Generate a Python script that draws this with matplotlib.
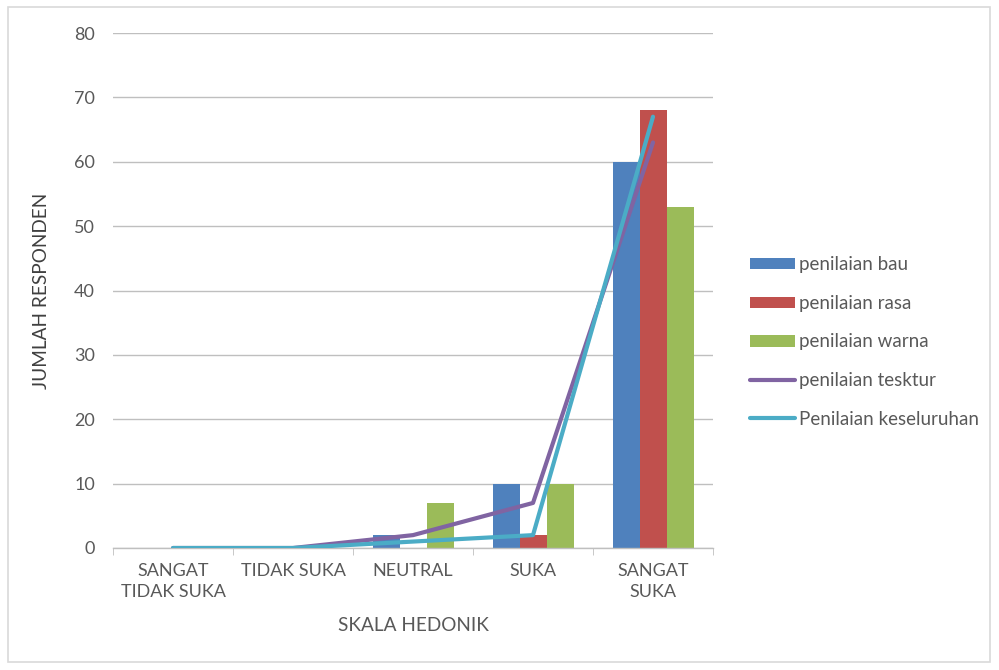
import matplotlib
matplotlib.use("Agg")
import matplotlib.pyplot as plt
import numpy as np
from matplotlib.patches import Rectangle

categories = ["SANGAT\nTIDAK SUKA", "TIDAK SUKA", "NEUTRAL", "SUKA", "SANGAT\nSUKA"]
bau = [0, 0, 2, 10, 60]
rasa = [0, 0, 0, 2, 68]
warna = [0, 0, 7, 10, 53]
tekstur = [0, 0, 2, 7, 63]
keseluruhan = [0, 0, 1, 2, 67]

plt.rcParams['font.family'] = ['Lato', 'DejaVu Sans']
txt = '#595959'

fig = plt.figure(figsize=(9.99, 6.70), dpi=100)
fig.patches.append(Rectangle((8/999, 8/670), 982/999, 655/670, transform=fig.transFigure,
                             fill=False, edgecolor='#D9D9D9', linewidth=1.2))
ax = fig.add_axes([113/999, (670-548)/670, 600/999, (548-33)/670])

x = np.arange(len(categories))
w = 0.225
b1 = ax.bar(x - w, bau, w, color='#4F81BD', label='penilaian bau', zorder=2)
b2 = ax.bar(x, rasa, w, color='#C0504D', label='penilaian rasa', zorder=2)
b3 = ax.bar(x + w, warna, w, color='#9BBB59', label='penilaian warna', zorder=2)
l1, = ax.plot(x, tekstur, color='#8064A2', lw=3.0, label='penilaian tesktur', zorder=3, solid_capstyle='round')
l2, = ax.plot(x, keseluruhan, color='#4BACC6', lw=3.0, label='Penilaian keseluruhan', zorder=4, solid_capstyle='round')

ax.set_xlim(-0.5, 4.5)
ax.set_ylim(0, 80)
ax.set_yticks(range(0, 81, 10))
ax.yaxis.grid(True, color='#BFBFBF', lw=1.0, zorder=0)
ax.set_axisbelow(True)
for s in ['top', 'right', 'left']:
    ax.spines[s].set_visible(False)
ax.spines['bottom'].set_color('#BFBFBF')
ax.spines['bottom'].set_linewidth(1.0)
ax.set_xticks(x)
ax.set_xticklabels(categories, fontsize=13, color=txt, linespacing=1.4)
ax.set_xticks(np.arange(-0.5, 5, 1), minor=True)
ax.tick_params(axis='x', which='major', length=0, pad=11)
ax.tick_params(axis='x', which='minor', length=5, color='#BFBFBF', direction='out')
ax.tick_params(axis='y', length=0, labelsize=13, labelcolor=txt, pad=13)

ax.set_xlabel('SKALA HEDONIK', fontsize=13.7, color=txt, labelpad=12)
ax.set_ylabel('JUMLAH RESPONDEN', fontsize=13.7, color='#404040', labelpad=17)

leg = ax.legend([b1, b2, b3, l1, l2],
                ['penilaian bau', 'penilaian rasa', 'penilaian warna', 'penilaian tesktur', 'Penilaian keseluruhan'],
                loc='center left', bbox_to_anchor=(750/999, (670-342)/670), bbox_transform=fig.transFigure,
                frameon=False, fontsize=13.5, labelcolor=txt, handlelength=2.4, handleheight=0.55,
                handletextpad=0.2, labelspacing=1.15, borderpad=0, borderaxespad=0)

fig.savefig('out.png', dpi=100)
